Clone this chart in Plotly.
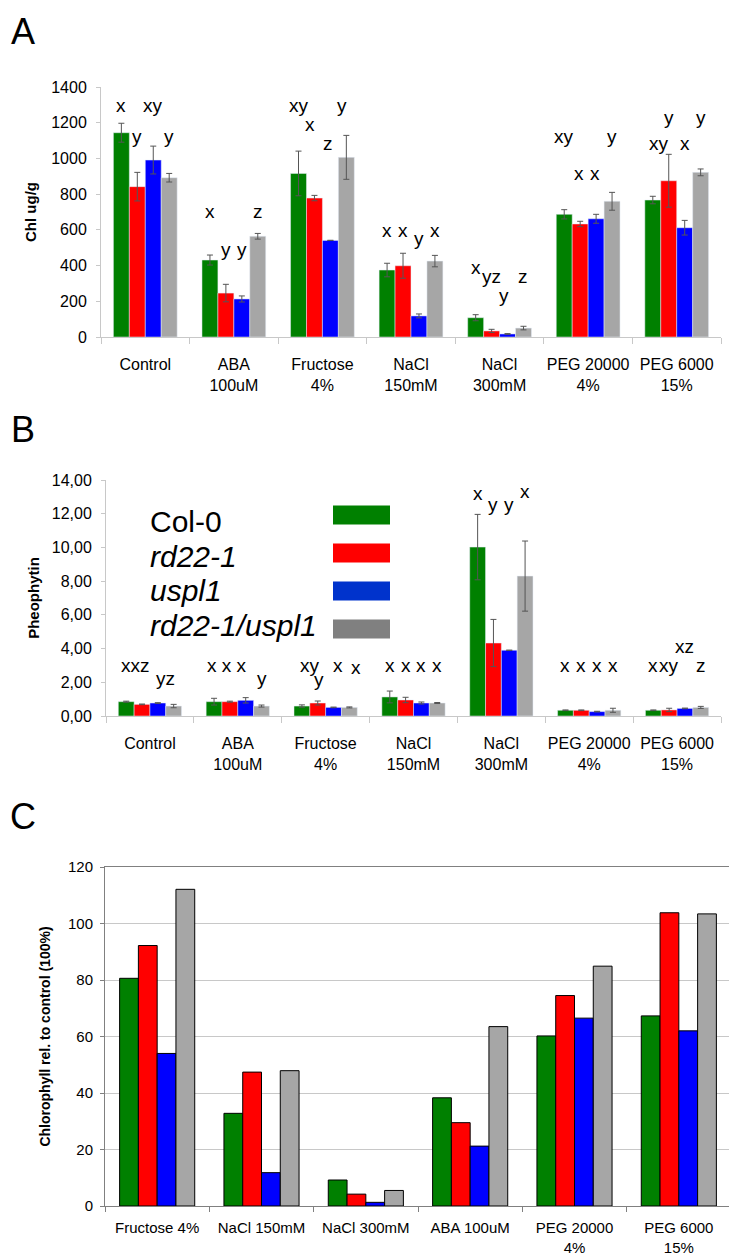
import plotly.graph_objects as go

# page body has an 8px margin, so the figure is made smaller and shifted
OFF = 8
W, H = 737 - OFF, 1258 - OFF
FONT = "Arial, Liberation Sans, sans-serif"

genotypes = ["Col-0", "rd22-1", "uspl1", "rd22-1/uspl1"]
bar_colors = ["#008000", "#FF0000", "#0000FF", "#A6A6A6"]
legend_swatch_colors = ["#008000", "#FF0000", "#0033CC", "#808080"]

# --- panel A: chlorophyll, ug/g ---
a_categories = ["Control", "ABA<br>100uM", "Fructose<br>4%", "NaCl<br>150mM",
                "NaCl<br>300mM", "PEG 20000<br>4%", "PEG 6000<br>15%"]
a_col0 = [1144, 431, 916, 375, 108, 687, 767]
a_rd22 = [842, 246, 778, 399, 34, 633, 875]
a_uspl1 = [991, 213, 541, 118, 17, 662, 612]
a_double = [892, 564, 1006, 425, 50, 760, 922]
a_col0_err = [53, 28, 125, 38, 17, 26, 21]
a_rd22_err = [80, 49, 15, 70, 9, 15, 148]
a_uspl1_err = [78, 17, 0, 11, 2, 25, 41]
a_double_err = [24, 16, 123, 32, 10, 50, 19]

# significance letters: (category, bar slot, text, height)
a_letters = [
    (0, 0, "x", 1295), (0, 1, "y", 1121), (0, 2, "xy", 1295), (0, 3, "y", 1121),
    (1, 0, "x", 705), (1, 1, "y", 491), (1, 2, "y", 491), (1, 3, "z", 705),
    (2, 0, "xy", 1295), (2, 0.7, "x", 1191), (2, 1.85, "z", 1085), (2, 2.75, "y", 1295),
    (3, 0, "x", 599), (3, 1, "x", 599), (3, 2, "y", 553), (3, 3, "x", 599),
    (4, 0, "x", 390), (4, 1, "yz", 338), (4, 1.8, "y", 235), (4, 3, "z", 338),
    (5, 0, "xy", 1121), (5, 0.9, "x", 916), (5, 1.9, "x", 916), (5, 3, "y", 1121),
    (6, 0.4, "xy", 1081), (6, 1, "y", 1230), (6, 2, "x", 1081), (6, 3, "y", 1230),
]

# --- panel B: pheophytin ---
b_col0 = [0.85, 0.85, 0.59, 1.13, 10.02, 0.34, 0.34]
b_rd22 = [0.69, 0.85, 0.77, 0.95, 4.33, 0.34, 0.36]
b_uspl1 = [0.77, 0.93, 0.51, 0.77, 3.90, 0.26, 0.45]
b_double = [0.59, 0.59, 0.51, 0.77, 8.30, 0.34, 0.51]
b_col0_err = [0.03, 0.20, 0.07, 0.35, 1.94, 0.02, 0.02]
b_rd22_err = [0.02, 0.03, 0.12, 0.16, 1.40, 0.02, 0.10]
b_uspl1_err = [0.02, 0.16, 0.02, 0.06, 0.0, 0.02, 0.02]
b_double_err = [0.10, 0.06, 0.03, 0.03, 2.08, 0.12, 0.06]

b_letters = [
    (0, 0.6, "xxz", 3.0), (0, 2.5, "yz", 2.2),
    (1, 0.8, "x x x", 3.0), (1, 3, "y", 2.2),
    (2, 0.5, "xy", 3.0), (2, 1.1, "y", 2.15), (2, 2.3, "x", 3.0), (2, 3.4, "x", 2.9),
    (3, 0, "x", 3.0), (3, 1, "x", 3.0), (3, 2, "x", 3.0), (3, 3, "x", 3.0),
    (4, 0, "x", 13.2), (4, 1, "y", 12.57), (4, 2, "y", 12.57), (4, 3, "x", 13.3),
    (5, 0, "x", 3.0), (5, 1, "x", 3.0), (5, 2, "x", 3.0), (5, 3, "x", 3.0),
    (6, 0, "x", 3.0), (6, 1, "xy", 3.0), (6, 2, "xz", 4.1), (6, 3, "z", 3.0),
]

# --- panel C: chlorophyll relative to control (%) ---
c_categories = ["Fructose 4%", "NaCl 150mM", "NaCl 300mM", "ABA 100uM",
                "PEG 20000<br>4%", "PEG 6000<br>15%"]
c_col0 = [80.6, 32.8, 9.2, 38.3, 60.2, 67.3]
c_rd22 = [92.2, 47.4, 4.2, 29.5, 74.5, 103.8]
c_uspl1 = [54.0, 11.8, 1.3, 21.2, 66.5, 62.0]
c_double = [112.1, 47.9, 5.5, 63.5, 84.9, 103.4]

BARGAP = 0.28
slot_w = (1 - BARGAP) / 4


def px_x(p):
    return (p - OFF) / W


def px_y(p):
    return 1 - (p - OFF) / H


fig = go.Figure()

a_vals = [a_col0, a_rd22, a_uspl1, a_double]
a_errs = [a_col0_err, a_rd22_err, a_uspl1_err, a_double_err]
for name, vals, errs, col in zip(genotypes, a_vals, a_errs, bar_colors):
    fig.add_trace(go.Bar(
        x=a_categories, y=vals, name=name, marker_color=col,
        error_y=dict(type="data", array=errs, color="#555555", thickness=1, width=3),
        xaxis="x", yaxis="y", showlegend=False))

b_vals = [b_col0, b_rd22, b_uspl1, b_double]
b_errs = [b_col0_err, b_rd22_err, b_uspl1_err, b_double_err]
for name, vals, errs, col in zip(genotypes, b_vals, b_errs, bar_colors):
    fig.add_trace(go.Bar(
        x=a_categories, y=vals, name=name, marker_color=col,
        error_y=dict(type="data", array=errs, color="#555555", thickness=1, width=3),
        xaxis="x2", yaxis="y2", showlegend=False))

c_vals = [c_col0, c_rd22, c_uspl1, c_double]
for name, vals, col in zip(genotypes, c_vals, bar_colors):
    fig.add_trace(go.Bar(
        x=c_categories, y=vals, name=name, marker_color=col,
        marker_line=dict(color="#000000", width=1),
        xaxis="x3", yaxis="y3", showlegend=False))

annotations = []


def slot_x(cat, slot):
    return cat - (1 - BARGAP) / 2 + slot_w * (slot + 0.5)


for cat, slot, txt, yv in a_letters:
    annotations.append(dict(x=slot_x(cat, slot), y=yv, xref="x", yref="y", text=txt,
                            showarrow=False, font=dict(size=19, color="#000")))
for cat, slot, txt, yv in b_letters:
    annotations.append(dict(x=slot_x(cat, slot), y=yv, xref="x2", yref="y2", text=txt,
                            showarrow=False, font=dict(size=19, color="#000")))

# panel letters
for letter, ypx in [("A", 32), ("B", 429), ("C", 816)]:
    annotations.append(dict(x=px_x(23), y=px_y(ypx), xref="paper", yref="paper",
                            xanchor="center", yanchor="middle",
                            text=letter, showarrow=False, font=dict(size=36, color="#000")))

# legend of panel B: text on the left, colour swatch on the right
legend_text_y = [521, 556, 591, 625]
legend_swatch_y = [515, 553, 591, 629]
shapes = []
for i, name in enumerate(genotypes):
    txt = name if i == 0 else "<i>%s</i>" % name
    annotations.append(dict(x=px_x(148), y=px_y(legend_text_y[i]), xref="paper", yref="paper",
                            xanchor="left", yanchor="middle", text=txt, showarrow=False,
                            font=dict(size=30, color="#000")))
    shapes.append(dict(type="rect", xref="paper", yref="paper",
                       x0=px_x(333), x1=px_x(390),
                       y0=px_y(legend_swatch_y[i] + 9.5), y1=px_y(legend_swatch_y[i] - 9.5),
                       fillcolor=legend_swatch_colors[i], line=dict(width=0)))

axis_grey = "#C8C8C8"
cat_axis = dict(type="category", showline=True, linecolor=axis_grey, ticks="outside",
                tickson="boundaries", ticklen=6, tickcolor=axis_grey, showgrid=False,
                tickangle=0, automargin=False,
                tickfont=dict(size=16, color="#000"), ticklabelstandoff=13)
val_axis = dict(showline=True, linecolor=axis_grey, ticks="outside", ticklen=4,
                tickcolor=axis_grey, showgrid=False, zeroline=False, automargin=False,
                tickfont=dict(size=16, color="#000"), ticklabelstandoff=6)

fig.update_layout(
    width=W, height=H,
    margin=dict(l=0, r=0, t=0, b=0, autoexpand=False),
    paper_bgcolor="white", plot_bgcolor="white",
    font=dict(family=FONT, color="#000"),
    separators=",.",
    barmode="group", bargap=BARGAP, bargroupgap=0,
    xaxis=dict(cat_axis, domain=[px_x(101), px_x(721)], anchor="y"),
    yaxis=dict(val_axis, domain=[px_y(337), px_y(87)], anchor="x", range=[0, 1400], dtick=200,
               title=dict(text="<b>Chl ug/g</b>", font=dict(size=15), standoff=10)),
    xaxis2=dict(cat_axis, domain=[px_x(106), px_x(721)], anchor="y2"),
    yaxis2=dict(val_axis, domain=[px_y(716), px_y(480)], anchor="x2", range=[0, 14], dtick=2,
                tickformat=".2f",
                title=dict(text="<b>Pheophytin</b>", font=dict(size=15), standoff=8)),
    xaxis3=dict(cat_axis, domain=[px_x(105), px_x(731)], anchor="y3", linecolor="#808080",
                tickcolor="#808080", mirror=True, ticklen=5, tickfont=dict(size=15, color="#000"),
                ticklabelstandoff=8),
    yaxis3=dict(val_axis, domain=[px_y(1206), px_y(867)], anchor="x3", range=[0, 120], dtick=20,
                linecolor="#808080", tickcolor="#808080", mirror=True, showgrid=True,
                gridcolor="#C8C8C8", tickfont=dict(size=15, color="#000"), ticklabelstandoff=4,
                title=dict(text="<b>Chlorophyll rel. to control (100%)</b>", font=dict(size=14),
                           standoff=14)),
    annotations=annotations,
    shapes=shapes,
)

fig.write_html("out.html")
